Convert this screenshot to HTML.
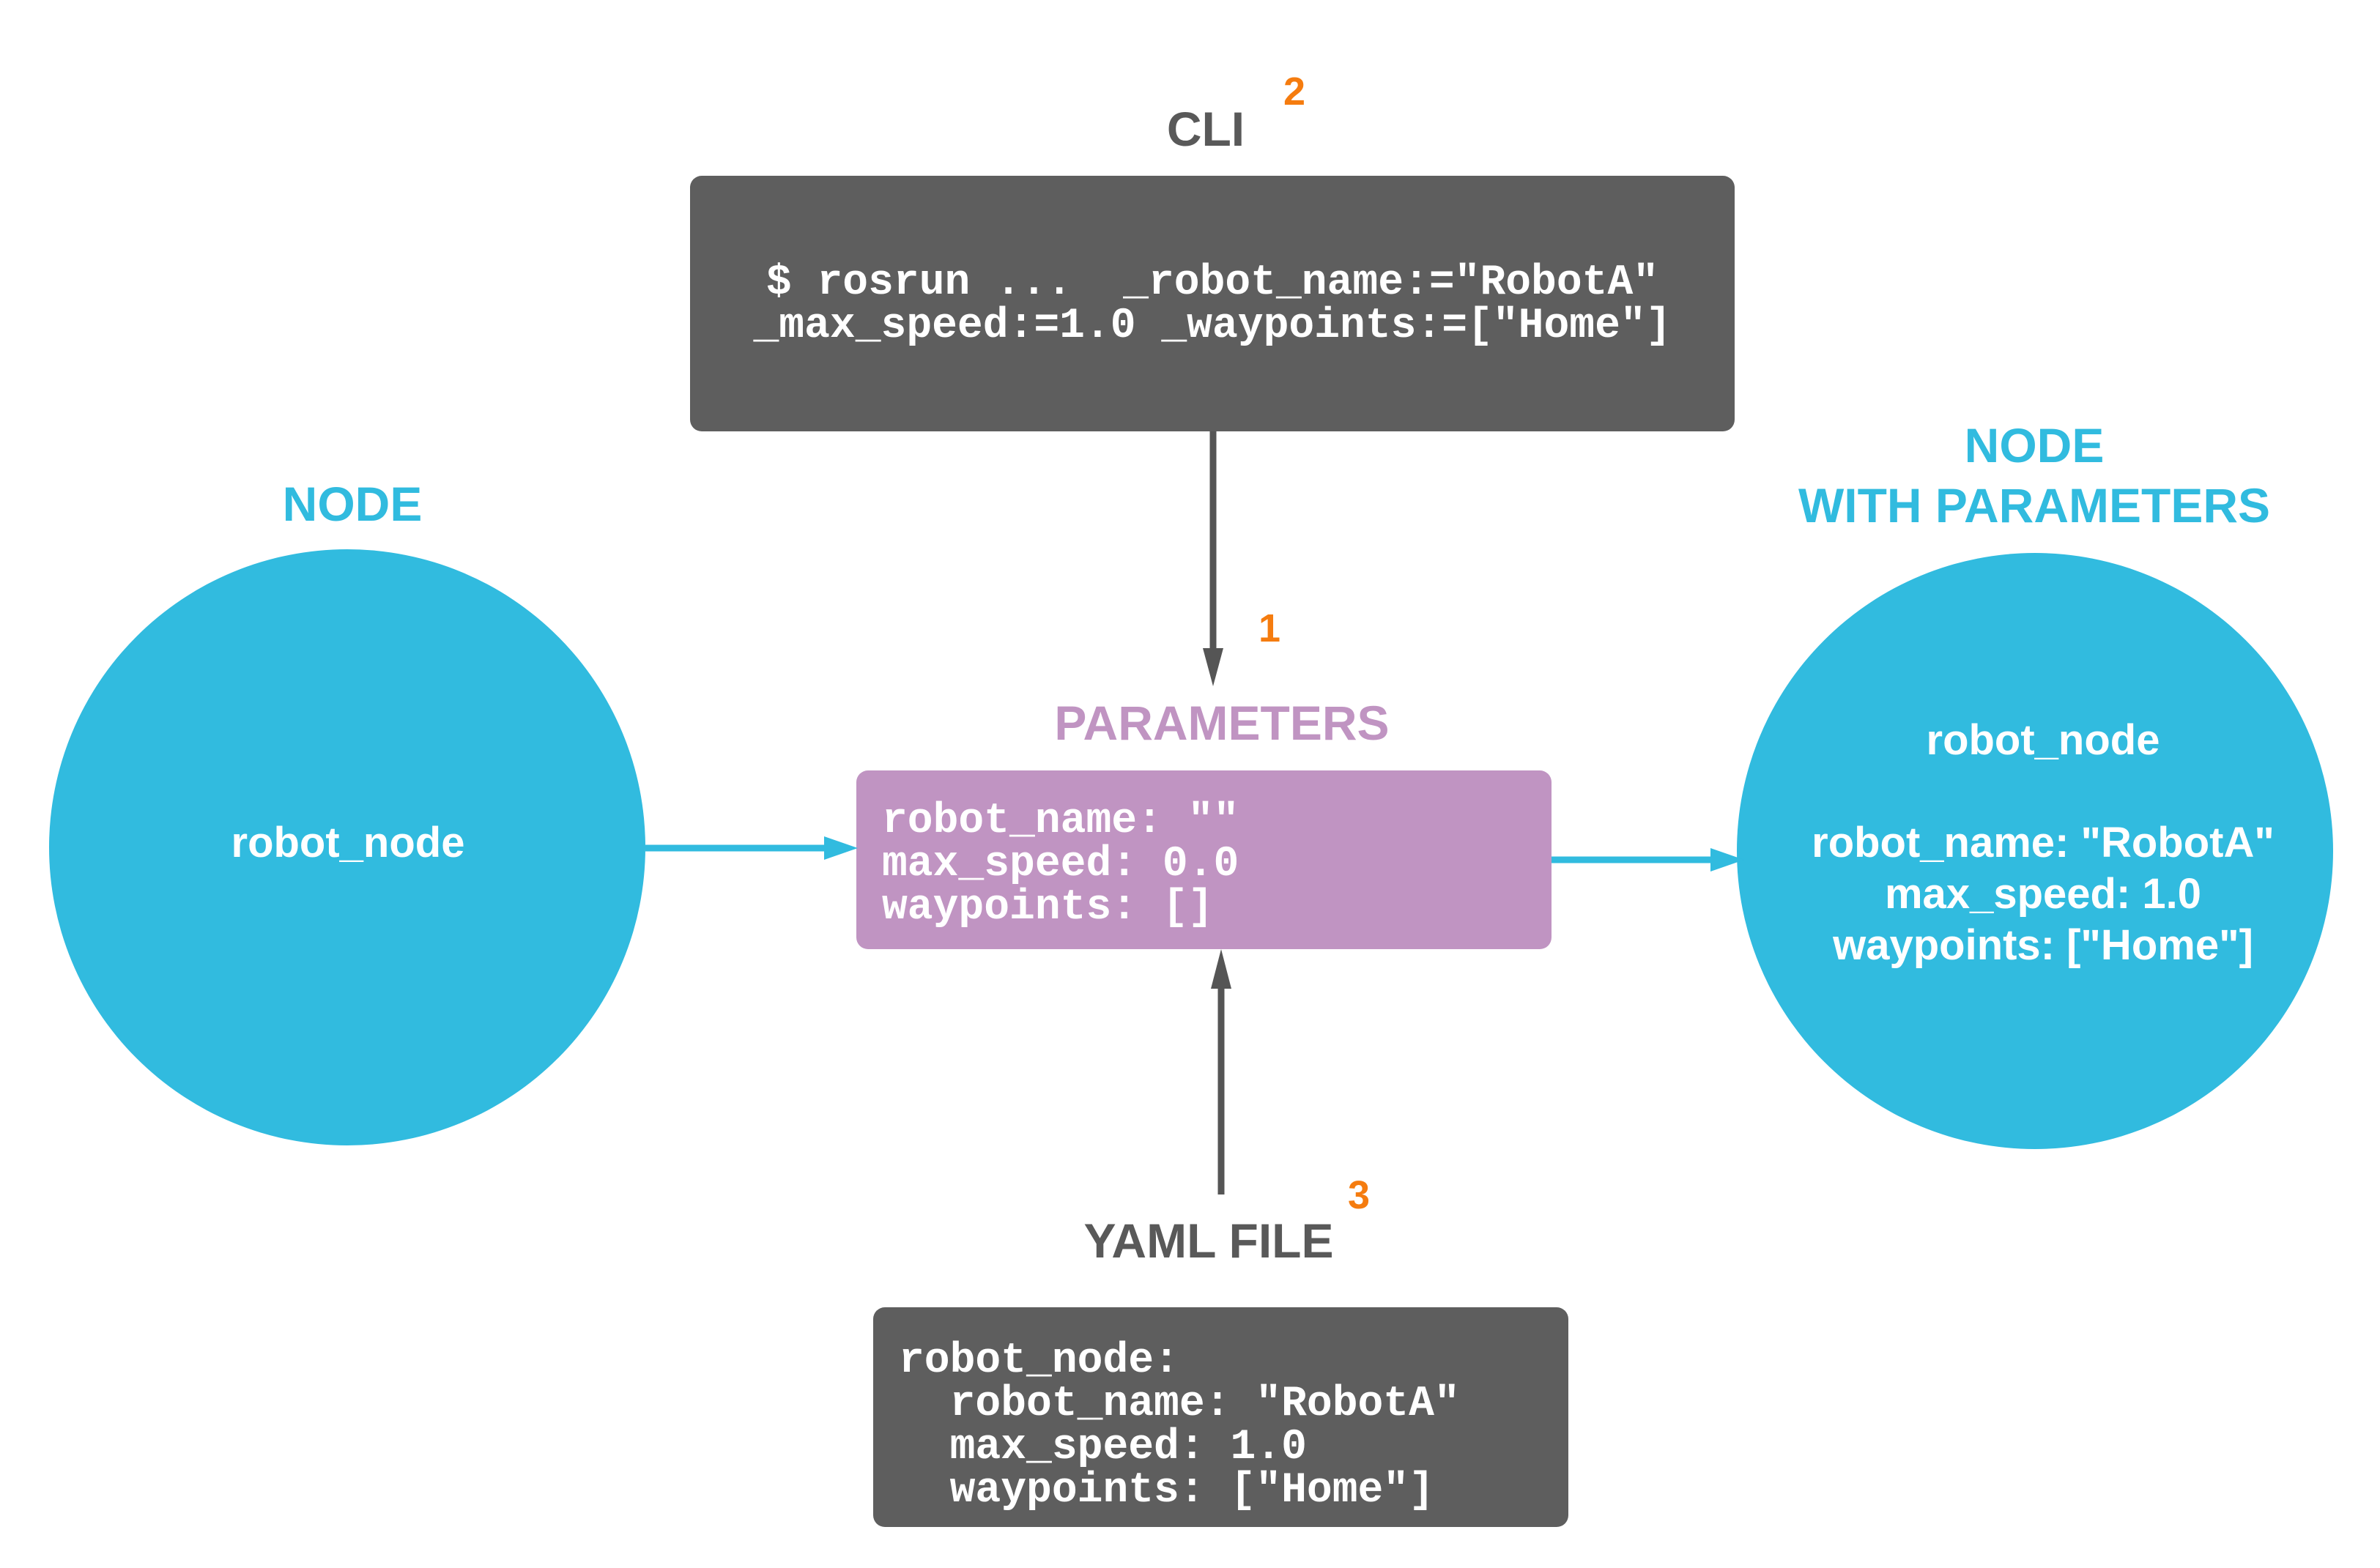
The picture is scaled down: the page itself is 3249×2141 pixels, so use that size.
<!DOCTYPE html>
<html><head><meta charset="utf-8"><style>html,body{margin:0;padding:0;background:#fff}svg{display:block}.pre{white-space:pre}</style></head>
<body>
<svg width="3249" height="2141" viewBox="0 0 3249 2141" xmlns="http://www.w3.org/2000/svg">
<g font-family="Liberation Sans, sans-serif" font-weight="bold" text-anchor="middle">
<text x="1646" y="199" font-size="66" fill="#595959">CLI</text>
<text x="1767" y="143" font-size="54" fill="#f57c0f">2</text>
<text x="1733" y="876" font-size="54" fill="#f57c0f">1</text>
<text x="1855" y="1650" font-size="54" fill="#f57c0f">3</text>
<text x="1668" y="1010" font-size="66" fill="#c094c2">PARAMETERS</text>
<text x="481" y="711" font-size="66" fill="#31bbdf">NODE</text>
<text x="2777" y="631" font-size="66" fill="#31bbdf">NODE</text>
<text x="2777" y="713" font-size="66" fill="#31bbdf">WITH PARAMETERS</text>
<text x="1650" y="1717" font-size="66" fill="#595959">YAML FILE</text>
</g>
<rect x="942" y="240" width="1426" height="349" rx="16" fill="#5e5e5e"/>
<rect x="1169" y="1052" width="949" height="244" rx="16" fill="#c094c2"/>
<rect x="1192" y="1785" width="949" height="300" rx="16" fill="#5e5e5e"/>
<circle cx="474" cy="1157" r="407" fill="#31bbdf"/>
<circle cx="2778" cy="1162" r="407" fill="#31bbdf"/>
<g font-family="Liberation Mono, monospace" font-weight="bold" font-size="58" fill="#fff">
<text class="pre" x="1655" y="401" text-anchor="middle">$ rosrun ...  _robot_name:="RobotA"</text>
<text class="pre" x="1655" y="460" text-anchor="middle">_max_speed:=1.0 _waypoints:=["Home"]</text>
<text class="pre" x="1204" y="1136">robot_name: ""</text>
<text class="pre" x="1204" y="1195">max_speed: 0.0</text>
<text class="pre" x="1204" y="1254">waypoints: []</text>
<text class="pre" x="1227" y="1873">robot_node:</text>
<text class="pre" x="1227" y="1932">  robot_name: "RobotA"</text>
<text class="pre" x="1227" y="1991">  max_speed: 1.0</text>
<text class="pre" x="1227" y="2050">  waypoints: ["Home"]</text>
</g>
<g font-family="Liberation Sans, sans-serif" font-weight="bold" font-size="58" fill="#fff" text-anchor="middle">
<text x="475" y="1170">robot_node</text>
<text x="2789" y="1030">robot_node</text>
<text x="2789" y="1170">robot_name: "RobotA"</text>
<text x="2789" y="1240">max_speed: 1.0</text>
<text x="2789" y="1310">waypoints: ["Home"]</text>
</g>
<line x1="1656" y1="589" x2="1656" y2="890" stroke="#555" stroke-width="9"/>
<path d="M1642,885 L1670,885 L1656,937 Z" fill="#555"/>
<line x1="1667" y1="1631" x2="1667" y2="1345" stroke="#555" stroke-width="9"/>
<path d="M1653,1350 L1681,1350 L1667,1296 Z" fill="#555"/>
<line x1="881" y1="1158" x2="1130" y2="1158" stroke="#31bbdf" stroke-width="9"/>
<path d="M1125,1142 L1171,1158 L1125,1174 Z" fill="#31bbdf"/>
<line x1="2118" y1="1174" x2="2340" y2="1174" stroke="#31bbdf" stroke-width="9"/>
<path d="M2335,1158 L2381,1174 L2335,1190 Z" fill="#31bbdf"/>
</svg>
</body></html>
